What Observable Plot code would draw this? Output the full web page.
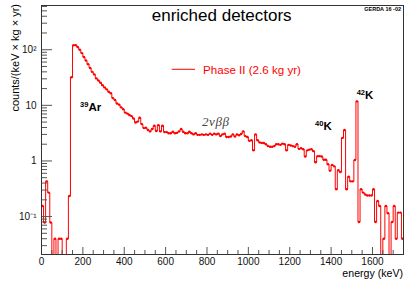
<!DOCTYPE html>
<html><head><meta charset="utf-8">
<script src="https://cdn.jsdelivr.net/npm/d3@7"></script>
<script src="https://cdn.jsdelivr.net/npm/@observablehq/plot@0.6"></script>
<style>
html,body{margin:0;padding:0;background:#fff;}
#chart svg{display:block;}
</style></head><body><div id="chart"></div>
<script>
// histogram: 10 keV bins from 0 to 1750 keV
const binStart = 0;
const binWidth = 10;
const counts = [
  0.155, 0.078, 0.43, 0.27, 0.078, 0, 0.04, 0, 0.04, 0.04,
  0, 0, 0.04, 0.235, 32, 120, 121, 112, 100, 87,
  74, 64, 55, 47, 40, 36, 30.5, 28, 25.5, 23,
  21, 19.4, 17.5, 16.5, 13.5, 12.5, 10.8, 10.3, 9.2, 8.5,
  7.4, 7.1, 6.7, 6.4, 5.8, 4.9, 5.1, 6.0, 4.6, 3.9,
  3.95, 3.6, 3.4, 3.75, 4.3, 3.45, 4.4, 3.4, 4.3, 3.3,
  3.3, 3.15, 3.15, 3.35, 3.15, 3.2, 3.4, 3.75, 3.35, 3.15,
  3.15, 3.35, 3.15, 3.0, 3.15, 2.95, 2.95, 3.0, 2.95, 3.0,
  2.95, 3.1, 2.95, 3.1, 3.0, 3.1, 2.8, 3.0, 3.1, 2.7,
  2.7, 2.75, 3.0, 2.75, 3.0, 2.9, 3.05, 3.4, 2.8, 2.7,
  2.3, 2.35, 1.55, 3.0, 2.35, 2.15, 2.1, 2.1, 2.0, 1.85,
  1.8, 1.8, 1.85, 2.0, 2.0, 1.95, 2.05, 2.0, 1.55, 1.95,
  1.9, 1.85, 1.8, 2.0, 1.65, 1.7, 1.62, 1.2, 1.55, 1.6,
  1.62, 1.5, 0.95, 1.22, 1.22, 1.2, 1.05, 1.05, 0.87, 0.67,
  0.85, 0.8, 0.31, 0.68, 0.63, 2.6, 3.6, 0.31, 0.52, 0.43,
  0.43, 1.04, 11.8, 0.08, 0.31, 0.27, 0.25, 0.24, 0.24, 0.24,
  0.31, 0.08, 0.19, 0.155, 0, 0.04, 0.155, 0.115, 0, 0.08,
  0.155, 0.04, 0.118, 0.118, 0.04
];
const xDomain = [0, 1750];
const yDomain = [0.0208, 624];
const xMajorTicks = [0, 200, 400, 600, 800, 1000, 1200, 1400, 1600];
const xMinorTicks = d3.range(50, 1750, 50).filter(v => v % 200 !== 0);
const yMajorTicks = [0.1, 1, 10, 100];
const yMajorLabels = ["10\u207B\u00B9", "1", "10", "10\u00B2"];
const yMinorTicks = [0.03,0.04,0.05,0.06,0.07,0.08,0.09,0.2,0.3,0.4,0.5,0.6,0.7,0.8,0.9,
  2,3,4,5,6,7,8,9,20,30,40,50,60,70,80,90,200,300,400,500,600];
const seriesName = "Phase II (2.6 kg yr)";
const title = "enriched detectors";
const tag = "GERDA 16 -02";
const xLabel = "energy (keV)";
const yLabel = "counts/(keV \u00D7 kg \u00D7 yr)";
const isotopeLabels = [
  {sup: "39", base: "Ar", E: 189, v: 7.9},
  {sup: "40", base: "K", E: 1325, v: 3.6},
  {sup: "42", base: "K", E: 1526, v: 12.7}
];
const processLabel = {text: "2\u03BD\u03B2\u03B2", E: 778, v: 4.1};

const floorVal = 1e-3;
const steps = counts.flatMap((v, i) => {
  const lo = binStart + i * binWidth, y = v > 0 ? v : floorVal;
  return [{x: lo, y}, {x: lo + binWidth, y}];
});
const points = counts.map((v, i) => ({x: binStart + (i + 0.5) * binWidth, y: v})).filter(d => d.y > 0);

const W = 415, H = 283, mL = 41, mR = 12, mT = 5, mB = 29;
const fw = W - mL - mR, fh = H - mT - mB;
const red = "#ff0000";
const tickCol = "#555";

const plot = Plot.plot({
  width: W, height: H,
  marginLeft: mL, marginRight: mR, marginTop: mT, marginBottom: mB,
  style: {fontFamily: "'Liberation Sans', Arial, sans-serif", background: "#fff", color: "#111"},
  x: {domain: xDomain},
  y: {type: "log", domain: yDomain},
  marks: [
    Plot.line(steps, {x: "x", y: "y", stroke: red, strokeWidth: 1, clip: true}),
    Plot.dot(points, {x: "x", y: "y", r: 1.2, fill: red, stroke: "none", clip: true}),
    Plot.ruleX(xMajorTicks, {x: d => d, stroke: tickCol, insetTop: fh - 7}),
    Plot.ruleX(xMinorTicks, {x: d => d, stroke: tickCol, insetTop: fh - 4}),
    Plot.ruleY(yMajorTicks, {y: d => d, stroke: tickCol, insetRight: fw - 11}),
    Plot.ruleY(yMinorTicks, {y: d => d, stroke: tickCol, insetRight: fw - 6}),
    Plot.axisX({ticks: xMajorTicks, tickSize: 0, tickPadding: 3, fontSize: 10, label: null,
      tickFormat: d3.format("d")}),
    Plot.axisY({ticks: yMajorTicks, tickSize: 0, tickPadding: 5, fontSize: 10, label: null,
      tickFormat: d => yMajorLabels[yMajorTicks.indexOf(d)]}),
    Plot.frame({stroke: "#333"})
  ]
});
document.getElementById("chart").appendChild(plot);

const svg = d3.select(plot);
const sx = plot.scale("x"), sy = plot.scale("y");
const px = v => sx.apply ? sx.apply(v) : d3.scaleLinear(sx.domain, sx.range)(v);
const py = v => sy.apply ? sy.apply(v) : d3.scaleLog(sy.domain, sy.range)(v);
const font = "'Liberation Sans', Arial, sans-serif";

svg.append("text").attr("x", 221.7).attr("y", 21).attr("text-anchor", "middle")
  .attr("font-family", font).attr("font-size", 17).attr("fill", "#000").text(title);
svg.append("text").attr("x", 401).attr("y", 11).attr("text-anchor", "end")
  .attr("font-family", font).attr("font-size", 5.5).attr("font-weight", "bold").attr("fill", "#000").text(tag);
svg.append("text").attr("transform", "translate(18.5,4) rotate(-90)").attr("text-anchor", "end")
  .attr("font-family", font).attr("font-size", 11).attr("fill", "#000").text(yLabel);
svg.append("text").attr("x", 403).attr("y", 277).attr("text-anchor", "end")
  .attr("font-family", font).attr("font-size", 10.6).attr("fill", "#000").text(xLabel);

// legend
svg.append("line").attr("x1", 171.7).attr("x2", 195).attr("y1", 69.3).attr("y2", 69.3)
  .attr("stroke", red).attr("stroke-width", 1);
svg.append("text").attr("x", 203).attr("y", 73.5).attr("text-anchor", "start").attr("font-family", font)
  .attr("font-size", 11.6).attr("fill", red).text(seriesName);

// isotope annotations
for (const d of isotopeLabels) {
  const t = svg.append("text").attr("x", px(d.E)).attr("y", py(d.v)).attr("text-anchor", "start")
    .attr("font-family", font).attr("font-weight", "bold").attr("fill", "#000");
  t.append("tspan").attr("font-size", 7.5).attr("dy", -4).text(d.sup);
  t.append("tspan").attr("font-size", 11.5).attr("dy", 4).text(d.base);
}
svg.append("text").attr("x", px(processLabel.E)).attr("y", py(processLabel.v)).attr("text-anchor", "start")
  .attr("font-family", "'Liberation Serif', serif").attr("font-style", "italic")
  .attr("font-size", 13).attr("letter-spacing", 0.6).attr("fill", "#444").text(processLabel.text);
</script>
</body></html>
